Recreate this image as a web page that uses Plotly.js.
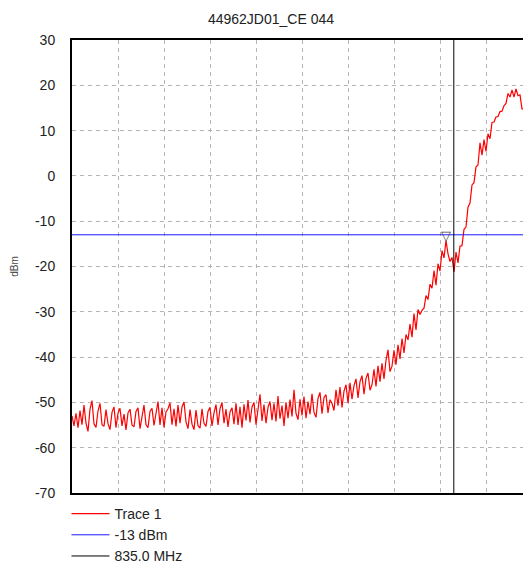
<!DOCTYPE html>
<html>
<head>
<meta charset="utf-8">
<script src="https://cdn.plot.ly/plotly-3.0.1.min.js"></script>
<style>
html, body { margin: 0; padding: 0; overflow: hidden; background: #fff; }
#chart { width: 542px; height: 566px; }
</style>
</head>
<body>
<div id="chart"></div>
<script>
// Sweep definition (MHz)
const sweepStartMHz = 793.5;
const sweepStopMHz = 843.5;

// Trace 1 values (dBm), equally spaced over the sweep
const trace1 = [
  -53.0, -55.2, -52.4, -55.6, -51.8, -54.9, -50.6, -54.6, -56.4, -51.5,
  -49.6, -54.8, -55.5, -51.9, -50.2, -54.9, -55.3, -51.6, -54.7, -56.0,
  -52.2, -51.0, -55.6, -52.4, -51.3, -55.2, -52.6, -56.1, -52.3, -51.5,
  -55.0, -55.4, -52.0, -51.2, -55.8, -52.6, -50.6, -54.9, -55.6, -52.0,
  -51.3, -55.1, -52.4, -49.8, -55.0, -51.2, -55.5, -52.1, -51.4, -50.1,
  -54.9, -51.4, -55.3, -50.6, -54.6, -51.0, -49.9, -54.3, -55.8, -51.6,
  -54.8, -56.0, -51.7, -55.1, -55.7, -51.4, -54.6, -55.3, -52.0, -51.1,
  -55.2, -52.3, -50.5, -55.0, -51.4, -50.0, -54.6, -51.5, -55.4, -52.1,
  -51.2, -54.8, -50.2, -55.0, -51.0, -55.6, -50.4, -54.0, -49.5, -54.4,
  -51.0, -50.0, -54.9, -51.3, -48.2, -54.1, -50.5, -54.6, -51.1, -49.8,
  -53.9, -50.2, -54.2, -48.6, -53.6, -50.7, -55.2, -50.0, -53.5, -49.4,
  -53.1, -47.2, -52.4, -53.8, -49.3, -52.9, -48.7, -53.5, -49.8, -52.6,
  -48.1, -52.2, -53.3, -49.1, -47.8, -52.5, -48.9, -48.3, -52.3, -49.4,
  -50.2, -51.8, -47.2, -50.7, -46.6, -51.1, -47.5, -46.1, -50.1, -45.7,
  -49.3, -46.3, -44.8, -49.0, -45.4, -44.1, -48.2, -44.7, -43.5, -47.3,
  -46.1, -42.7, -46.5, -41.9, -45.4, -41.4, -44.8, -40.7, -38.4, -43.2,
  -42.0, -38.5, -41.7, -37.3, -40.4, -35.9, -39.1, -35.0, -36.2, -32.7,
  -35.6, -30.4, -34.0, -29.5, -30.6, -29.7, -29.2, -26.4, -27.3, -23.9,
  -24.8, -20.9, -24.1, -19.4, -21.0, -16.5, -18.1, -14.3, -17.2, -18.9,
  -18.0, -21.2, -16.8, -19.2, -15.5, -15.4, -11.8, -11.3, -6.9, -6.0,
  -2.0, -1.5, 2.0, 2.4, 7.3, 4.6, 8.0, 5.4, 9.3, 8.2,
  11.8, 11.9, 13.0, 13.1, 14.2, 14.3, 15.5, 16.0, 18.2, 17.4,
  19.0, 17.4, 19.2, 17.7, 17.9, 14.8, 14.8, 15.0, 16.2, 15.4, 16.0
];

const limitLevel = [-13];          // dBm
const markerLineFreq = [835.0];     // MHz
const yTickVals = [-70, -60, -50, -40, -30, -20, -10, 0, 10, 20, 30];
const legendNames = ["Trace 1", "-13 dBm", "835.0 MHz"];

const n = trace1.length;
const freqs = trace1.map((_, i) => sweepStartMHz + i * (sweepStopMHz - sweepStartMHz) / (n - 1));

// Peak marker: highest point left of the 835 MHz line
let pk = 0;
for (let i = 0; i < n; i++) {
  if (freqs[i] < markerLineFreq[0] && trace1[i] > trace1[pk]) pk = i;
}

const FONT = "Liberation Sans, Arial, sans-serif";

const data = [
  { x: freqs, y: trace1, type: "scatter", mode: "lines", name: legendNames[0],
    line: { color: "#ff0000", width: 1.2 } },
  { x: [sweepStartMHz, sweepStopMHz], y: [limitLevel[0], limitLevel[0]], type: "scatter", mode: "lines",
    name: legendNames[1], line: { color: "#1a1aff", width: 1 } },
  { x: [markerLineFreq[0], markerLineFreq[0]], y: [yTickVals[0], yTickVals[yTickVals.length - 1]],
    type: "scatter", mode: "lines", name: legendNames[2], line: { color: "#000000", width: 1 } }
];

const layout = {
  width: 542, height: 566,
  margin: { l: 72, r: 10, t: 40, b: 73, autoexpand: false },
  paper_bgcolor: "#fff", plot_bgcolor: "#fff",
  font: { family: FONT, color: "#222", size: 14 },
  title: { text: "44962JD01_CE 044", x: 0.5, xanchor: "center", y: 1, yref: "container", yanchor: "top", pad: { t: 14 },
           font: { family: FONT, size: 14, color: "#222" } },
  showlegend: true,
  legend: { x: -0.012, xref: "paper", y: -0.011, yanchor: "top", orientation: "v", itemwidth: 38,
            font: { family: FONT, size: 14, color: "#222" }, bgcolor: "rgba(0,0,0,0)", traceorder: "normal" },
  xaxis: {
    range: [sweepStartMHz, sweepStopMHz], tick0: sweepStartMHz, dtick: 5,
    showticklabels: false, ticks: "",
    showgrid: true, gridcolor: "#b4b4b4", griddash: "4px,4px", gridwidth: 1,
    showline: true, linecolor: "#000", linewidth: 2, mirror: true, zeroline: false
  },
  yaxis: {
    range: [-70, 30], tickvals: yTickVals, ticktext: yTickVals.map(String),
    ticks: "", ticklabelstandoff: 12,
    tickfont: { family: FONT, size: 14, color: "#222" },
    showgrid: true, gridcolor: "#b4b4b4", griddash: "4px,4px", gridwidth: 1,
    showline: true, linecolor: "#000", linewidth: 2, mirror: true, zeroline: false,
    title: { text: "dBm", standoff: 14, font: { family: FONT, size: 10, color: "#444" } }
  },
  annotations: [
    { x: freqs[pk], y: trace1[pk], xref: "x", yref: "y", text: "▽", showarrow: false,
      yanchor: "bottom", yshift: -4, font: { family: "DejaVu Sans", size: 13, color: "#444" } }
  ]
};

Plotly.newPlot("chart", data, layout, { displayModeBar: false, staticPlot: true });
</script>
</body>
</html>
